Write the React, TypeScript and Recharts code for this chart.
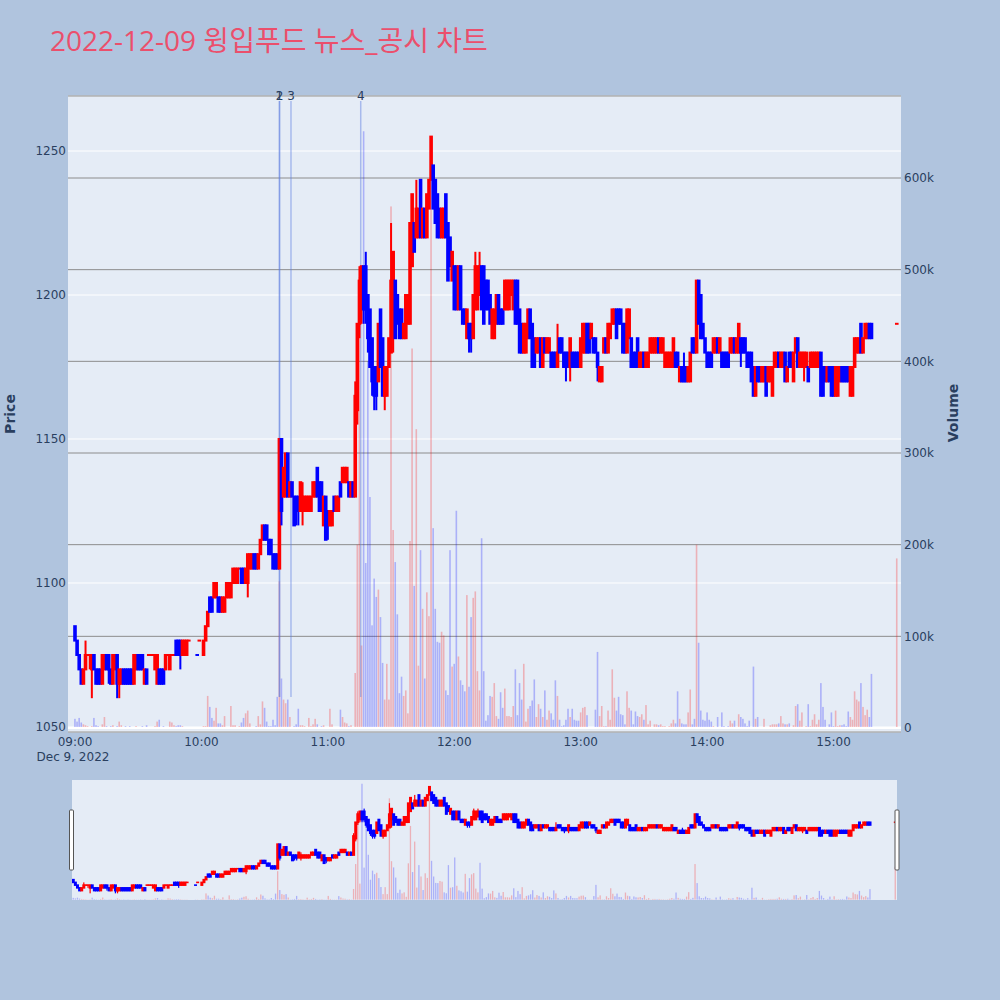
import React from "react";
import {
  ComposedChart,
  Scatter,
  Bar,
  XAxis,
  YAxis,
  CartesianGrid,
  ReferenceLine,
} from "recharts";

// 1-minute candles from 09:00 (index = minutes after 09:00), [open, high, low, close]; null = no trade
type Candle = [number, number, number, number] | null;

const CANDLES: Candle[] = [
  // 09:00
  [1085,1085,1080,1080],[1080,1080,1075,1075],[1075,1075,1070,1070],[1070,1070,1065,1065],[1065,1070,1065,1070],[1070,1080,1070,1075],[1075,1075,1075,1075],[1075,1075,1070,1075],[1070,1075,1060,1075],[1075,1075,1070,1070],
  [1070,1070,1065,1065],[1070,1070,1065,1065],[1070,1070,1065,1065],[1065,1075,1065,1075],[1070,1075,1070,1075],[1075,1075,1070,1070],[1075,1075,1065,1070],[1070,1070,1065,1065],[1065,1075,1065,1075],[1070,1075,1070,1075],
  [1075,1075,1060,1065],[1065,1070,1060,1070],[1065,1070,1065,1070],[1070,1070,1065,1065],[1070,1070,1065,1065],[1070,1070,1065,1065],[1070,1070,1065,1065],[1070,1070,1065,1065],[1065,1075,1065,1075],[1070,1075,1070,1075],
  [1075,1075,1070,1070],[1075,1075,1070,1070],[1075,1075,1070,1070],[1065,1070,1065,1070],[1070,1070,1065,1065],[1075,1075,1075,1075],[1075,1075,1075,1075],[1075,1075,1075,1075],[1070,1075,1070,1075],[1065,1075,1065,1075],
  [1070,1070,1065,1065],[1070,1070,1065,1065],[1070,1070,1065,1065],[1070,1075,1070,1075],[1075,1075,1075,1075],[1070,1075,1070,1075],[1075,1075,1075,1075],[1075,1075,1075,1075],[1080,1080,1075,1075],[1080,1080,1075,1075],
  [1080,1080,1070,1075],[1075,1080,1075,1080],[1075,1080,1075,1080],[1075,1080,1075,1080],[1080,1080,1080,1080],null,null,null,[1075,1075,1075,1075],[1080,1080,1080,1080],
  // 10:00
  null,[1075,1080,1075,1080],[1080,1085,1080,1085],[1085,1090,1085,1090],[1095,1095,1090,1090],[1095,1095,1090,1090],[1095,1100,1095,1100],[1095,1100,1095,1100],[1095,1095,1090,1090],[1095,1095,1090,1090],
  [1090,1095,1090,1095],[1090,1095,1090,1095],[1095,1100,1095,1100],[1095,1100,1095,1100],[1095,1100,1095,1100],[1100,1105,1100,1105],[1100,1105,1100,1105],[1100,1105,1100,1105],[1105,1105,1105,1105],[1105,1105,1100,1100],
  [1105,1105,1100,1100],[1100,1105,1100,1105],[1100,1110,1095,1110],[1105,1110,1105,1110],[1105,1110,1105,1110],[1110,1110,1105,1105],[1110,1110,1105,1105],[1105,1110,1105,1110],[1110,1115,1110,1115],[1115,1120,1115,1120],
  [1120,1120,1115,1115],[1120,1120,1115,1115],[1115,1115,1110,1110],[1115,1115,1110,1110],[1110,1110,1105,1105],[1110,1110,1105,1105],[1110,1110,1105,1105],[1105,1150,1105,1150],[1150,1150,1120,1125],[1130,1140,1130,1140],
  [1130,1145,1130,1145],[1145,1145,1130,1130],[1130,1135,1130,1135],[1135,1135,1130,1130],[1130,1130,1120,1120],[1130,1130,1120,1125],[1130,1130,1120,1125],[1125,1135,1125,1135],[1125,1135,1120,1130],[1125,1130,1125,1130],
  [1125,1130,1125,1130],[1125,1130,1125,1130],[1125,1130,1125,1130],[1130,1135,1130,1135],[1130,1135,1130,1135],[1140,1140,1130,1130],[1135,1135,1125,1125],[1135,1135,1125,1125],[1120,1130,1120,1130],[1130,1130,1115,1115],
  // 11:00
  [1125,1125,1115,1120],[1120,1125,1120,1125],[1120,1125,1120,1125],[1130,1130,1125,1125],[1125,1130,1125,1130],[1125,1130,1125,1130],[1135,1135,1130,1130],[1135,1140,1135,1140],[1135,1140,1135,1140],[1135,1140,1135,1140],
  [1135,1135,1130,1130],[1130,1135,1130,1135],[1135,1135,1130,1130],[1130,1170,1130,1165],[1160,1190,1155,1190],[1190,1210,1185,1205],[1195,1210,1190,1210],[1210,1210,1190,1195],[1210,1215,1190,1195],[1200,1200,1180,1185],
  [1195,1195,1175,1175],[1185,1185,1165,1170],[1175,1175,1160,1165],[1175,1175,1160,1165],[1170,1190,1170,1190],[1195,1195,1175,1175],[1185,1185,1165,1165],[1165,1175,1160,1175],[1165,1175,1165,1175],[1175,1185,1175,1185],
  [1180,1225,1180,1205],[1195,1215,1180,1215],[1205,1205,1185,1185],[1200,1200,1190,1190],[1195,1195,1185,1185],[1195,1195,1185,1185],[1185,1190,1185,1190],[1185,1200,1185,1200],[1190,1200,1190,1200],[1190,1225,1190,1225],
  [1210,1235,1210,1235],[1225,1225,1215,1215],[1220,1240,1220,1230],[1220,1230,1220,1230],[1240,1240,1220,1220],[1220,1230,1220,1230],[1230,1230,1220,1220],[1220,1235,1220,1235],[1230,1240,1230,1240],[1240,1255,1240,1255],
  [1245,1245,1230,1230],[1240,1240,1225,1225],[1235,1235,1220,1220],[1230,1230,1220,1220],[1220,1230,1220,1230],[1220,1230,1220,1230],[1235,1235,1220,1220],[1225,1225,1205,1205],[1220,1220,1210,1210],[1205,1215,1205,1215],
  // 12:00
  [1210,1210,1195,1195],[1210,1210,1195,1195],[1195,1210,1195,1210],[1210,1210,1195,1195],[1195,1195,1190,1190],[1195,1195,1190,1190],[1185,1195,1185,1195],[1190,1190,1180,1185],[1190,1190,1180,1185],[1185,1200,1185,1200],
  [1195,1215,1195,1210],[1195,1210,1195,1210],[1200,1215,1200,1210],[1210,1210,1195,1195],[1210,1210,1190,1190],[1205,1205,1195,1195],[1205,1205,1195,1195],[1200,1200,1190,1190],[1185,1195,1185,1195],[1185,1195,1185,1195],
  [1190,1200,1190,1200],[1200,1200,1190,1190],[1195,1195,1190,1190],[1195,1195,1190,1190],[1195,1205,1195,1205],[1195,1205,1195,1205],[1195,1205,1195,1205],[1200,1205,1200,1205],[1195,1205,1195,1205],[1205,1205,1190,1190],
  [1205,1205,1190,1190],[1195,1195,1180,1180],[1190,1190,1180,1180],[1180,1190,1180,1190],[1180,1190,1180,1190],[1185,1195,1185,1195],[1195,1195,1185,1185],[1190,1190,1175,1175],[1185,1185,1175,1175],[1180,1185,1180,1185],
  [1180,1185,1180,1185],[1185,1185,1175,1175],[1175,1185,1175,1185],[1185,1185,1180,1180],[1180,1185,1180,1185],[1180,1185,1180,1185],[1180,1180,1175,1175],[1180,1180,1175,1175],[1180,1180,1175,1175],[1175,1190,1175,1180],
  [1185,1185,1180,1180],[1185,1185,1180,1180],[1180,1180,1175,1175],[1180,1180,1170,1175],[1180,1180,1175,1175],[1175,1185,1170,1185],[1180,1180,1175,1175],[1180,1180,1175,1175],[1180,1180,1175,1175],[1180,1180,1175,1175],
  // 13:00
  [1175,1185,1175,1185],[1180,1190,1180,1190],[1180,1190,1180,1190],[1190,1190,1180,1180],[1190,1190,1180,1180],[1185,1190,1185,1190],[1185,1185,1180,1180],[1185,1185,1180,1180],[1180,1180,1170,1175],[1170,1175,1170,1175],
  [1170,1175,1170,1175],[1180,1185,1180,1185],[1185,1185,1180,1180],[1180,1190,1180,1190],[1185,1190,1185,1190],[1190,1195,1190,1195],[1190,1195,1190,1195],[1195,1195,1185,1185],[1195,1195,1190,1190],[1195,1195,1190,1190],
  [1190,1190,1180,1180],[1190,1190,1180,1180],[1180,1195,1180,1195],[1185,1195,1185,1195],[1185,1185,1175,1175],[1180,1180,1175,1175],[1180,1180,1175,1175],[1185,1185,1175,1175],[1175,1180,1175,1180],[1175,1180,1175,1180],
  [1180,1180,1175,1175],[1175,1180,1175,1180],[1175,1180,1175,1180],[1180,1185,1180,1185],[1180,1185,1180,1185],[1180,1185,1180,1185],[1180,1185,1180,1185],[1185,1185,1180,1180],[1180,1185,1180,1185],[1180,1185,1180,1185],
  [1175,1180,1175,1180],[1175,1180,1175,1180],[1175,1180,1175,1180],[1175,1180,1175,1180],[1175,1185,1175,1185],[1180,1180,1175,1175],[1180,1180,1175,1175],[1170,1175,1170,1175],[1175,1175,1170,1170],[1175,1180,1170,1170],
  [1175,1175,1170,1170],[1170,1175,1170,1175],[1170,1180,1170,1180],[1185,1185,1180,1180],[1185,1185,1180,1180],[1180,1205,1180,1205],[1205,1205,1190,1190],[1200,1200,1185,1185],[1190,1190,1185,1185],[1185,1185,1180,1180],
  // 14:00
  [1180,1180,1175,1175],[1180,1180,1175,1175],[1180,1180,1175,1175],[1180,1185,1180,1185],[1180,1185,1180,1185],[1185,1185,1180,1180],[1180,1185,1180,1185],[1180,1180,1175,1175],[1180,1180,1175,1175],[1180,1180,1175,1175],
  [1180,1180,1175,1175],[1180,1185,1180,1185],[1180,1185,1180,1185],[1185,1185,1180,1180],[1180,1185,1180,1185],[1180,1190,1180,1190],[1185,1185,1175,1180],[1185,1185,1180,1180],[1185,1185,1180,1180],[1180,1180,1175,1175],
  [1180,1180,1175,1175],[1180,1180,1170,1170],[1175,1175,1165,1165],[1165,1175,1165,1175],[1175,1175,1170,1170],[1175,1175,1170,1170],[1170,1175,1170,1175],[1170,1175,1170,1175],[1175,1175,1165,1165],[1170,1175,1170,1175],
  [1170,1175,1170,1175],[1165,1175,1165,1175],[1175,1180,1175,1180],[1175,1180,1175,1180],[1180,1180,1175,1175],[1175,1180,1175,1180],[1175,1180,1175,1180],[1180,1180,1170,1170],[1170,1175,1170,1175],[1180,1180,1175,1175],
  [1180,1180,1175,1175],[1170,1180,1170,1180],[1180,1185,1180,1185],[1185,1185,1175,1175],[1175,1180,1175,1180],[1175,1180,1175,1180],[1175,1180,1170,1180],[1175,1180,1175,1180],[1175,1175,1170,1170],[1175,1180,1175,1180],
  [1175,1180,1175,1180],[1175,1180,1175,1180],[1175,1180,1175,1180],[1175,1180,1175,1180],[1180,1180,1165,1165],[1175,1175,1165,1165],[1175,1175,1170,1170],[1170,1175,1170,1175],[1175,1175,1170,1170],[1175,1175,1165,1165],
  // 15:00
  [1175,1175,1165,1165],[1165,1175,1165,1175],[1165,1175,1165,1175],[1170,1175,1170,1175],[1175,1175,1170,1170],[1175,1175,1170,1170],[1175,1175,1170,1170],[1175,1175,1170,1170],[1165,1175,1165,1175],[1165,1175,1165,1175],
  [1175,1185,1175,1185],[1180,1185,1180,1185],[1180,1185,1180,1185],[1190,1190,1180,1180],[1180,1185,1180,1185],[1185,1190,1185,1190],[1185,1190,1185,1190],[1190,1190,1185,1185],[1190,1190,1185,1185],
  null,null,null,null,null,null,null,null,null,null,null,
  // 15:30 closing auction
  [1190,1190,1190,1190],
];

// volume per minute, thousands of shares
const VOLUMES_K: number[] = [
  10,7,11,6,4,3,2,1,2,11,
  3,2,1,4,12,2,1,2,3,1,
  2,7,3,1,2,1,2,1,1,2,
  1,1,2,1,3,1,1,1,2,7,
  9,1,2,1,1,7,6,3,2,3,
  3,2,1,1,1,0,0,0,1,1,
  0,2,2,35,23,11,8,22,5,5,
  3,13,1,1,24,3,3,1,2,6,
  11,16,19,5,1,1,2,13,4,29,
  22,7,2,2,9,3,34,160,54,31,
  27,31,12,1,2,4,21,3,3,2,
  1,11,2,4,10,4,1,2,3,1,
  1,21,4,1,1,1,20,12,6,5,
  2,3,1,60,200,492,90,651,180,400,
  252,112,163,143,151,121,71,31,70,31,
  569,216,181,124,38,56,35,41,16,204,
  414,155,326,68,194,130,54,148,122,605,
  218,130,94,93,105,101,41,36,194,67,
  70,237,78,52,47,40,145,45,121,142,
  149,62,41,207,62,8,14,35,34,49,
  13,10,39,22,43,13,13,12,24,64,
  14,49,31,70,7,21,24,30,53,12,
  26,21,12,41,9,19,16,9,52,35,
  9,2,3,9,21,12,21,9,8,8,
  17,22,23,14,1,1,1,20,83,13,
  24,2,2,19,9,64,33,19,34,15,
  14,4,40,22,19,4,18,13,12,15,
  9,25,4,8,1,4,4,3,4,2,
  2,1,2,5,9,5,40,10,5,4,
  4,17,42,4,10,200,93,19,9,8,
  17,9,7,2,1,12,1,17,2,1,
  2,8,5,8,1,15,12,10,5,2,
  8,1,67,10,12,1,1,10,1,1,
  3,4,4,4,5,13,5,4,4,5,
  1,3,24,26,8,17,1,2,26,2,
  9,15,4,9,49,23,9,1,4,17,
  2,19,2,3,3,4,2,18,12,9,
  40,31,29,49,23,14,20,12,59,
  0,0,0,0,0,0,0,0,0,0,0,
  185,
];

// news / disclosure markers (minutes after 09:00)
const NEWS_LABELS = ["1", "2", "3", "4"];
const NEWS_MINUTES = [97, 97.1, 102.5, 135.6];

const PRICE_TICKS = [1050, 1100, 1150, 1200, 1250];
const VOLUME_TICKS = [0, 100, 200, 300, 400, 500, 600];
const TIME_TICKS = [0, 60, 120, 180, 240, 300, 360];
const TIME_LABELS = ["09:00", "10:00", "11:00", "12:00", "13:00", "14:00", "15:00"];
const DATE_LABEL = "Dec 9, 2022";
const TITLE = "2022-12-09 윙입푸드 뉴스_공시 차트";

const RED = "#ff0000";
const BLUE = "#0000ff";
const INK = "#2a3f5f";
const TITLE_FONT = "'Open Sans', 'Noto Sans CJK KR', sans-serif";
const AXIS_FONT = "'DejaVu Sans', verdana, sans-serif";

// layout
const PLOT_TOP = 96;
const PLOT_BOTTOM = 732;
const X_DOMAIN: [number, number] = [-3.32, 392.0];
const PRICE_DOMAIN: [number, number] = [1048.26, 1269.1];
const VOL_DOMAIN: [number, number] = [-4.364, 689.455];
const NEWS_SPAN: [number, number] = [1060.4, 1267.4];

const SLIDER = { left: 72, top: 780, width: 825, height: 120 };
const SLIDER_X_DOMAIN: [number, number] = [-0.6, 390.8];
const SLIDER_PRICE_DOMAIN: [number, number] = [1047.8, 1267.3];
const SLIDER_VOL_DOMAIN: [number, number] = [-2, 672];

type Row = {
  m: number;
  o?: number;
  h?: number;
  l?: number;
  c?: number;
  v: number;
  up: boolean;
};

const rows: Row[] = (() => {
  let prevClose: number | null = null;
  return CANDLES.map((cd, i) => {
    const v = VOLUMES_K[i] ?? 0;
    if (!cd) return { m: i, v, up: true };
    const [o, h, l, c] = cd;
    const up = c > o ? true : c < o ? false : prevClose == null ? true : c >= prevClose;
    prevClose = c;
    return { m: i, o, h, l, c, v, up };
  });
})();

function makeCandle(pxPerWon: number, bodyW: number, wickW: number, ext: number) {
  return (props: any) => {
    const { cx, cy, payload } = props;
    if (!payload || payload.c == null || !Number.isFinite(cx) || !Number.isFinite(cy)) return <g />;
    const color = payload.up ? RED : BLUE;
    const yAt = (p: number) => cy + (payload.h - p) * pxPerWon;
    const top = yAt(Math.max(payload.o, payload.c));
    const bottom = yAt(Math.min(payload.o, payload.c));
    const low = yAt(payload.l);
    return (
      <g>
        <rect x={cx - wickW / 2} y={cy} width={wickW} height={Math.max(low - cy, 0.01)} fill={color} />
        <rect x={cx - bodyW / 2} y={top - ext} width={bodyW} height={bottom - top + 2 * ext} fill={color} />
      </g>
    );
  };
}

function makeVolume(barW: number) {
  return (props: any) => {
    const { x, y, width, height, payload } = props;
    if (!payload || !payload.v || !(height > 0)) return <g />;
    const cx = x + (width || 0) / 2;
    return (
      <rect
        x={cx - barW / 2}
        y={y}
        width={barW}
        height={height}
        fill={payload.up ? RED : BLUE}
        fillOpacity={0.25}
      />
    );
  };
}

const mainCandle = makeCandle((PLOT_BOTTOM - PLOT_TOP) / (PRICE_DOMAIN[1] - PRICE_DOMAIN[0]), 3.6, 2, 1);
const sliderCandle = makeCandle(SLIDER.height / (SLIDER_PRICE_DOMAIN[1] - SLIDER_PRICE_DOMAIN[0]), 3, 1.2, 0.8);
const mainVolume = makeVolume(1.6);
const sliderVolume = makeVolume(1.3);

const TimeTick = (props: any) => {
  const { x, y, payload } = props;
  const i = TIME_TICKS.indexOf(payload.value);
  return (
    <g>
      <text x={x} y={y} dy="0.71em" textAnchor="middle" fill={INK} fontSize={12}>
        {TIME_LABELS[i]}
      </text>
      {i === 0 && (
        <text x={x - 2} y={y + 15} dy="0.71em" textAnchor="middle" fill={INK} fontSize={12}>
          {DATE_LABEL}
        </text>
      )}
    </g>
  );
};

export default function App() {
  return (
    <div
      style={{
        position: "absolute",
        left: 0,
        top: 0,
        width: 1000,
        height: 1000,
        background: "#b0c4de",
        fontFamily: AXIS_FONT,
        overflow: "hidden",
      }}
    >
      <div style={{ position: "absolute", left: 0, top: 0 }}>
        <ComposedChart
          width={1000}
          height={780}
          data={rows}
          margin={{ top: PLOT_TOP, right: 0, bottom: 0, left: 0 }}
        >
          <CartesianGrid
            xAxisId="main"
            yAxisId="price"
            vertical={false}
            stroke="#ffffff"
            strokeWidth={1}
            fill="#e5ecf6"
          />
          <CartesianGrid xAxisId="main" yAxisId="vol" vertical={false} stroke="#8c8c8c" strokeWidth={1} />
          <XAxis
            xAxisId="main"
            dataKey="m"
            type="number"
            domain={X_DOMAIN}
            allowDataOverflow
            ticks={TIME_TICKS}
            tick={<TimeTick />}
            axisLine={false}
            tickLine={false}
            tickSize={0}
            tickMargin={5}
            height={48}
            interval={0}
          />
          <XAxis xAxisId="vol" dataKey="m" type="number" domain={X_DOMAIN} allowDataOverflow hide />
          <YAxis
            yAxisId="price"
            orientation="left"
            type="number"
            width={68}
            domain={PRICE_DOMAIN}
            allowDataOverflow
            ticks={PRICE_TICKS}
            interval={0}
            axisLine={false}
            tickLine={false}
            tickSize={0}
            tickMargin={2}
            tick={{ fill: INK, fontSize: 12 }}
          />
          <YAxis
            yAxisId="vol"
            orientation="right"
            type="number"
            width={99}
            domain={VOL_DOMAIN}
            allowDataOverflow
            ticks={VOLUME_TICKS}
            interval={0}
            axisLine={false}
            tickLine={false}
            tickSize={0}
            tickMargin={3}
            tick={{ fill: INK, fontSize: 12 }}
            tickFormatter={(v: number) => (v === 0 ? "0" : `${v}k`)}
          />
          <ReferenceLine xAxisId="main" yAxisId="vol" y={0} stroke="#ffffff" strokeWidth={2} />
          <Bar
            xAxisId="vol"
            yAxisId="vol"
            dataKey="v"
            barSize={2}
            shape={mainVolume}
            isAnimationActive={false}
          />
          <Scatter
            xAxisId="main"
            yAxisId="price"
            dataKey="h"
            shape={mainCandle}
            isAnimationActive={false}
          />
          {NEWS_MINUTES.map((t, i) => (
            <ReferenceLine
              key={i}
              xAxisId="main"
              yAxisId="price"
              segment={[
                { x: t, y: NEWS_SPAN[0] },
                { x: t, y: NEWS_SPAN[1] },
              ]}
              stroke="rgb(90,125,225)"
              strokeOpacity={0.45}
              strokeWidth={1.5}
              ifOverflow="visible"
              label={{ value: NEWS_LABELS[i], position: "top", offset: 1, fill: INK, fontSize: 12 }}
            />
          ))}
        </ComposedChart>
      </div>

      <div
        style={{
          position: "absolute",
          left: SLIDER.left,
          top: SLIDER.top,
          width: SLIDER.width,
          height: SLIDER.height,
          background: "#e5ecf6",
        }}
      >
        <ComposedChart
          width={SLIDER.width}
          height={SLIDER.height}
          data={rows}
          margin={{ top: 0, right: 0, bottom: 0, left: 0 }}
        >
          <XAxis xAxisId="main" dataKey="m" type="number" domain={SLIDER_X_DOMAIN} allowDataOverflow hide />
          <XAxis xAxisId="vol" dataKey="m" type="number" domain={SLIDER_X_DOMAIN} allowDataOverflow hide />
          <YAxis yAxisId="price" type="number" domain={SLIDER_PRICE_DOMAIN} allowDataOverflow hide />
          <YAxis yAxisId="vol" type="number" domain={SLIDER_VOL_DOMAIN} allowDataOverflow hide />
          <Bar
            xAxisId="vol"
            yAxisId="vol"
            dataKey="v"
            barSize={2}
            shape={sliderVolume}
            isAnimationActive={false}
          />
          <Scatter
            xAxisId="main"
            yAxisId="price"
            dataKey="h"
            shape={sliderCandle}
            isAnimationActive={false}
          />
        </ComposedChart>
      </div>

      <svg
        width={1000}
        height={1000}
        style={{ position: "absolute", left: 0, top: 0, pointerEvents: "none" }}
      >
        <text x={50} y={50.5} fontSize={28} fill="#eb4f6c" fontFamily={TITLE_FONT}>
          {TITLE}
        </text>
        <text
          x={10}
          y={414}
          transform="rotate(-90 10 414)"
          textAnchor="middle"
          dominantBaseline="central"
          fontSize={14}
          fontWeight="bold"
          fill={INK}
          fontFamily={AXIS_FONT}
        >
          Price
        </text>
        <text
          x={953}
          y={413}
          transform="rotate(-90 953 413)"
          textAnchor="middle"
          dominantBaseline="central"
          fontSize={14}
          fontWeight="bold"
          fill={INK}
          fontFamily={AXIS_FONT}
        >
          Volume
        </text>
        <rect x={69.5} y={810} width={4} height={60} fill="#ffffff" stroke="#555555" strokeWidth={1} rx={1} />
        <rect x={895} y={810} width={4} height={60} fill="#ffffff" stroke="#555555" strokeWidth={1} rx={1} />
      </svg>
    </div>
  );
}
